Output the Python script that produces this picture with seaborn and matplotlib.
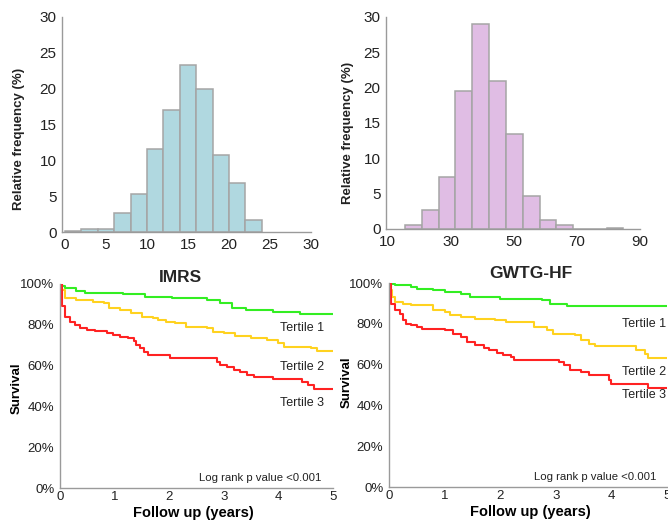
import matplotlib
matplotlib.use("Agg")
import matplotlib.pyplot as plt
import seaborn as sns
import numpy as np

# ---------------- data ----------------
# top-left histogram (IMRS score)
imrs_edges = [0, 2, 4, 6, 8, 10, 12, 14, 16, 18, 20, 22, 24]
imrs_freq = [0.15, 0.35, 0.35, 2.6, 5.3, 11.6, 17.0, 23.3, 20.0, 10.7, 6.9, 1.7]

# top-right histogram (GWTG-HF score)
gwtg_edges = [15.5, 20.8, 26.1, 31.4, 36.7, 42.1, 47.5, 52.8, 58.2, 63.5, 68.9, 74.2, 79.4, 84.7]
gwtg_freq = [0.5, 2.7, 7.4, 19.5, 29.0, 20.9, 13.4, 4.6, 1.2, 0.6, 0.0, 0.0, 0.2]

# Kaplan-Meier curves, IMRS tertiles
imrs_t1_time = [0, 0.03, 0.1, 0.3, 0.45, 1.15, 1.55, 2.05, 2.7, 2.93, 3.15, 3.4, 3.9, 4.4, 5.0]
imrs_t1_surv = [100, 99, 98, 96.5, 95.6, 95.0, 93.8, 93.0, 92.2, 90.5, 88.4, 87.3, 86.4, 85.5, 85.5]
imrs_t2_time = [0, 0.02, 0.1, 0.3, 0.6, 0.8, 0.9, 1.1, 1.3, 1.5, 1.7, 1.8, 1.95, 2.1, 2.3, 2.7,
                2.8, 3.0, 3.2, 3.5, 3.8, 4.0, 4.1, 4.6, 4.7, 5.0]
imrs_t2_surv = [100, 97, 93, 92.2, 91.4, 90.5, 88.1, 87.3, 85.6, 84.0, 83.2, 82.4, 81.6, 80.8, 79.1, 78.3,
                76.7, 75.9, 74.6, 73.4, 72.6, 71.0, 69.3, 68.5, 67.0, 67.0]
imrs_t3_time = [0, 0.03, 0.09, 0.18, 0.27, 0.37, 0.49, 0.64, 0.86, 0.98, 1.1, 1.25, 1.35, 1.4, 1.47,
                1.54, 1.62, 2.02, 2.87, 2.93, 3.06, 3.18, 3.3, 3.42, 3.55, 3.91, 4.43, 4.55, 4.65, 5.0]
imrs_t3_surv = [100, 89, 84, 81.6, 80, 78.3, 77.5, 77, 76.2, 75, 74.2, 73.4, 72.3, 70.1, 68.5,
                66.9, 65.3, 63.6, 62, 60.4, 59.2, 57.9, 56.8, 55.5, 54.3, 53.5, 52.2, 50.6, 48.5, 48.5]

# Kaplan-Meier curves, GWTG-HF tertiles
gwtg_t1_time = [0, 0.03, 0.1, 0.4, 0.5, 0.8, 1.0, 1.3, 1.45, 2.0, 2.75, 2.9, 3.2, 5.0]
gwtg_t1_surv = [100, 99.5, 98.9, 98, 97.2, 96.4, 95.6, 94.8, 93.1, 92.3, 91.5, 89.9, 88.6, 88.6]
gwtg_t2_time = [0, 0.02, 0.05, 0.1, 0.25, 0.4, 0.8, 1.0, 1.1, 1.3, 1.55, 1.9, 2.1, 2.6, 2.85, 2.95,
                3.35, 3.45, 3.6, 3.7, 4.45, 4.6, 4.65, 5.0]
gwtg_t2_surv = [100, 96.4, 93.1, 90.7, 89.9, 89.0, 86.6, 85.8, 84.2, 83.3, 82.5, 81.7, 80.9, 78.4, 76.8, 75.2,
                74.3, 71.9, 70.3, 69.0, 67.0, 65.4, 63.4, 63.4]
gwtg_t3_time = [0, 0.03, 0.1, 0.2, 0.25, 0.3, 0.4, 0.5, 0.6, 1.0, 1.15, 1.3, 1.4, 1.55, 1.7, 1.8, 1.95,
                2.05, 2.2, 2.25, 3.05, 3.15, 3.25, 3.45, 3.6, 3.95, 4.0, 4.65, 5.0]
gwtg_t3_surv = [100, 89.9, 86.6, 85.0, 81.7, 80.1, 79.3, 78.4, 77.6, 76.8, 75.2, 73.5, 71.1, 69.4, 68.3, 67.0, 65.7,
                64.5, 63.7, 62.4, 61.3, 59.6, 57.2, 56.4, 54.8, 52.6, 50.3, 48.5, 48.5]

tertile_labels = ["Tertile 1", "Tertile 2", "Tertile 3"]
surv_ticks = [0, 20, 40, 60, 80, 100]

# ---------------- style ----------------
sns.set_theme(style="white")
plt.rcParams["font.family"] = ["Liberation Sans", "DejaVu Sans"]

GREY = "#9a9a9a"
TXT = "#222222"
BLUE = "#b0d8e0"
PINK = "#e0bde4"
KM_COLORS = ["#33ee22", "#ffd21f", "#ff2222"]

fig = plt.figure(figsize=(6.68, 5.21), dpi=100)
ax_h1 = fig.add_axes([0.0928, 0.5547, 0.3728, 0.4127])
ax_h2 = fig.add_axes([0.5778, 0.5605, 0.3802, 0.4069])
ax_k1 = fig.add_axes([0.0898, 0.0633, 0.4087, 0.3916])
ax_k2 = fig.add_axes([0.5823, 0.0652, 0.4162, 0.3916])


def style_axes(ax, fs):
    sns.despine(ax=ax)
    for s in ("left", "bottom"):
        ax.spines[s].set_color(GREY)
        ax.spines[s].set_linewidth(1.0)
    ax.tick_params(axis="both", labelsize=fs, colors=TXT, length=2, width=0.8,
                   color=GREY, pad=2, direction="out")


# ---------------- histograms ----------------
def draw_hist(ax, edges, freq, color, xlim, xticks, label_xy):
    centers = [(edges[i] + edges[i + 1]) / 2 for i in range(len(freq))]
    sns.histplot(x=centers, weights=freq, bins=edges, ax=ax, color=color,
                 edgecolor="#a5a5a5", linewidth=1.1, alpha=1.0)
    ax.set_xlim(*xlim)
    ax.set_ylim(0, 30)
    ax.set_xticks(xticks)
    ax.set_yticks([0, 5, 10, 15, 20, 25, 30])
    ax.set_xlabel("")
    ax.set_ylabel("Relative frequency (%)", fontsize=9.5, fontweight="bold", color=TXT)
    ax.yaxis.set_label_coords(*label_xy)
    style_axes(ax, 11)


draw_hist(ax_h1, imrs_edges, imrs_freq, BLUE, (-0.37, 30), [0, 5, 10, 15, 20, 25, 30], (-0.15, 0.433))
draw_hist(ax_h2, gwtg_edges, gwtg_freq, PINK, (9.4, 90), [10, 30, 50, 70, 90], (-0.127, 0.453))


# ---------------- Kaplan-Meier ----------------
def draw_km(ax, curves, title, title_xy, label_pos, ylab_xy, xlab_x, logrank_x):
    for (t, s), c in zip(curves, KM_COLORS):
        sns.lineplot(x=t, y=s, ax=ax, color=c, linewidth=1.5, drawstyle="steps-post",
                     estimator=None, sort=False)
    ax.set_xlim(0, 5)
    ax.set_ylim(0, 100)
    ax.set_xticks([0, 1, 2, 3, 4, 5])
    ax.set_yticks(surv_ticks)
    ax.set_yticklabels([f"{v}%" for v in surv_ticks])
    style_axes(ax, 9.5)
    ax.tick_params(axis="x", direction="in")
    ax.set_xlabel("Follow up (years)", fontsize=10.5, fontweight="bold", color="black")
    ax.xaxis.set_label_coords(xlab_x, -0.09)
    ax.set_ylabel("Survival", fontsize=9.5, fontweight="bold", color="black")
    ax.yaxis.set_label_coords(*ylab_xy)
    ax.text(title_xy[0], title_xy[1], title, fontsize=12.5, fontweight="bold",
            ha="center", va="center", clip_on=False)
    for (lx, ly), lab in zip(label_pos, tertile_labels):
        ax.text(lx, ly, lab, fontsize=9, color=TXT, ha="left", va="center", clip_on=False)
    ax.text(logrank_x, 5, "Log rank p value <0.001", fontsize=8.2, color=TXT,
            ha="left", va="center")


draw_km(ax_k1,
        [(imrs_t1_time, imrs_t1_surv), (imrs_t2_time, imrs_t2_surv), (imrs_t3_time, imrs_t3_surv)],
        "IMRS", (2.2, 103.2), [(4.03, 78.3), (4.03, 59.5), (4.03, 41.6)],
        (-0.135, 0.49), 0.487, 2.55)
draw_km(ax_k2,
        [(gwtg_t1_time, gwtg_t1_surv), (gwtg_t2_time, gwtg_t2_surv), (gwtg_t3_time, gwtg_t3_surv)],
        "GWTG-HF", (2.55, 104.6), [(4.19, 80.1), (4.19, 56.4), (4.19, 44.9)],
        (-0.129, 0.515), 0.51, 2.6)

fig.savefig("out.png", dpi=100)
